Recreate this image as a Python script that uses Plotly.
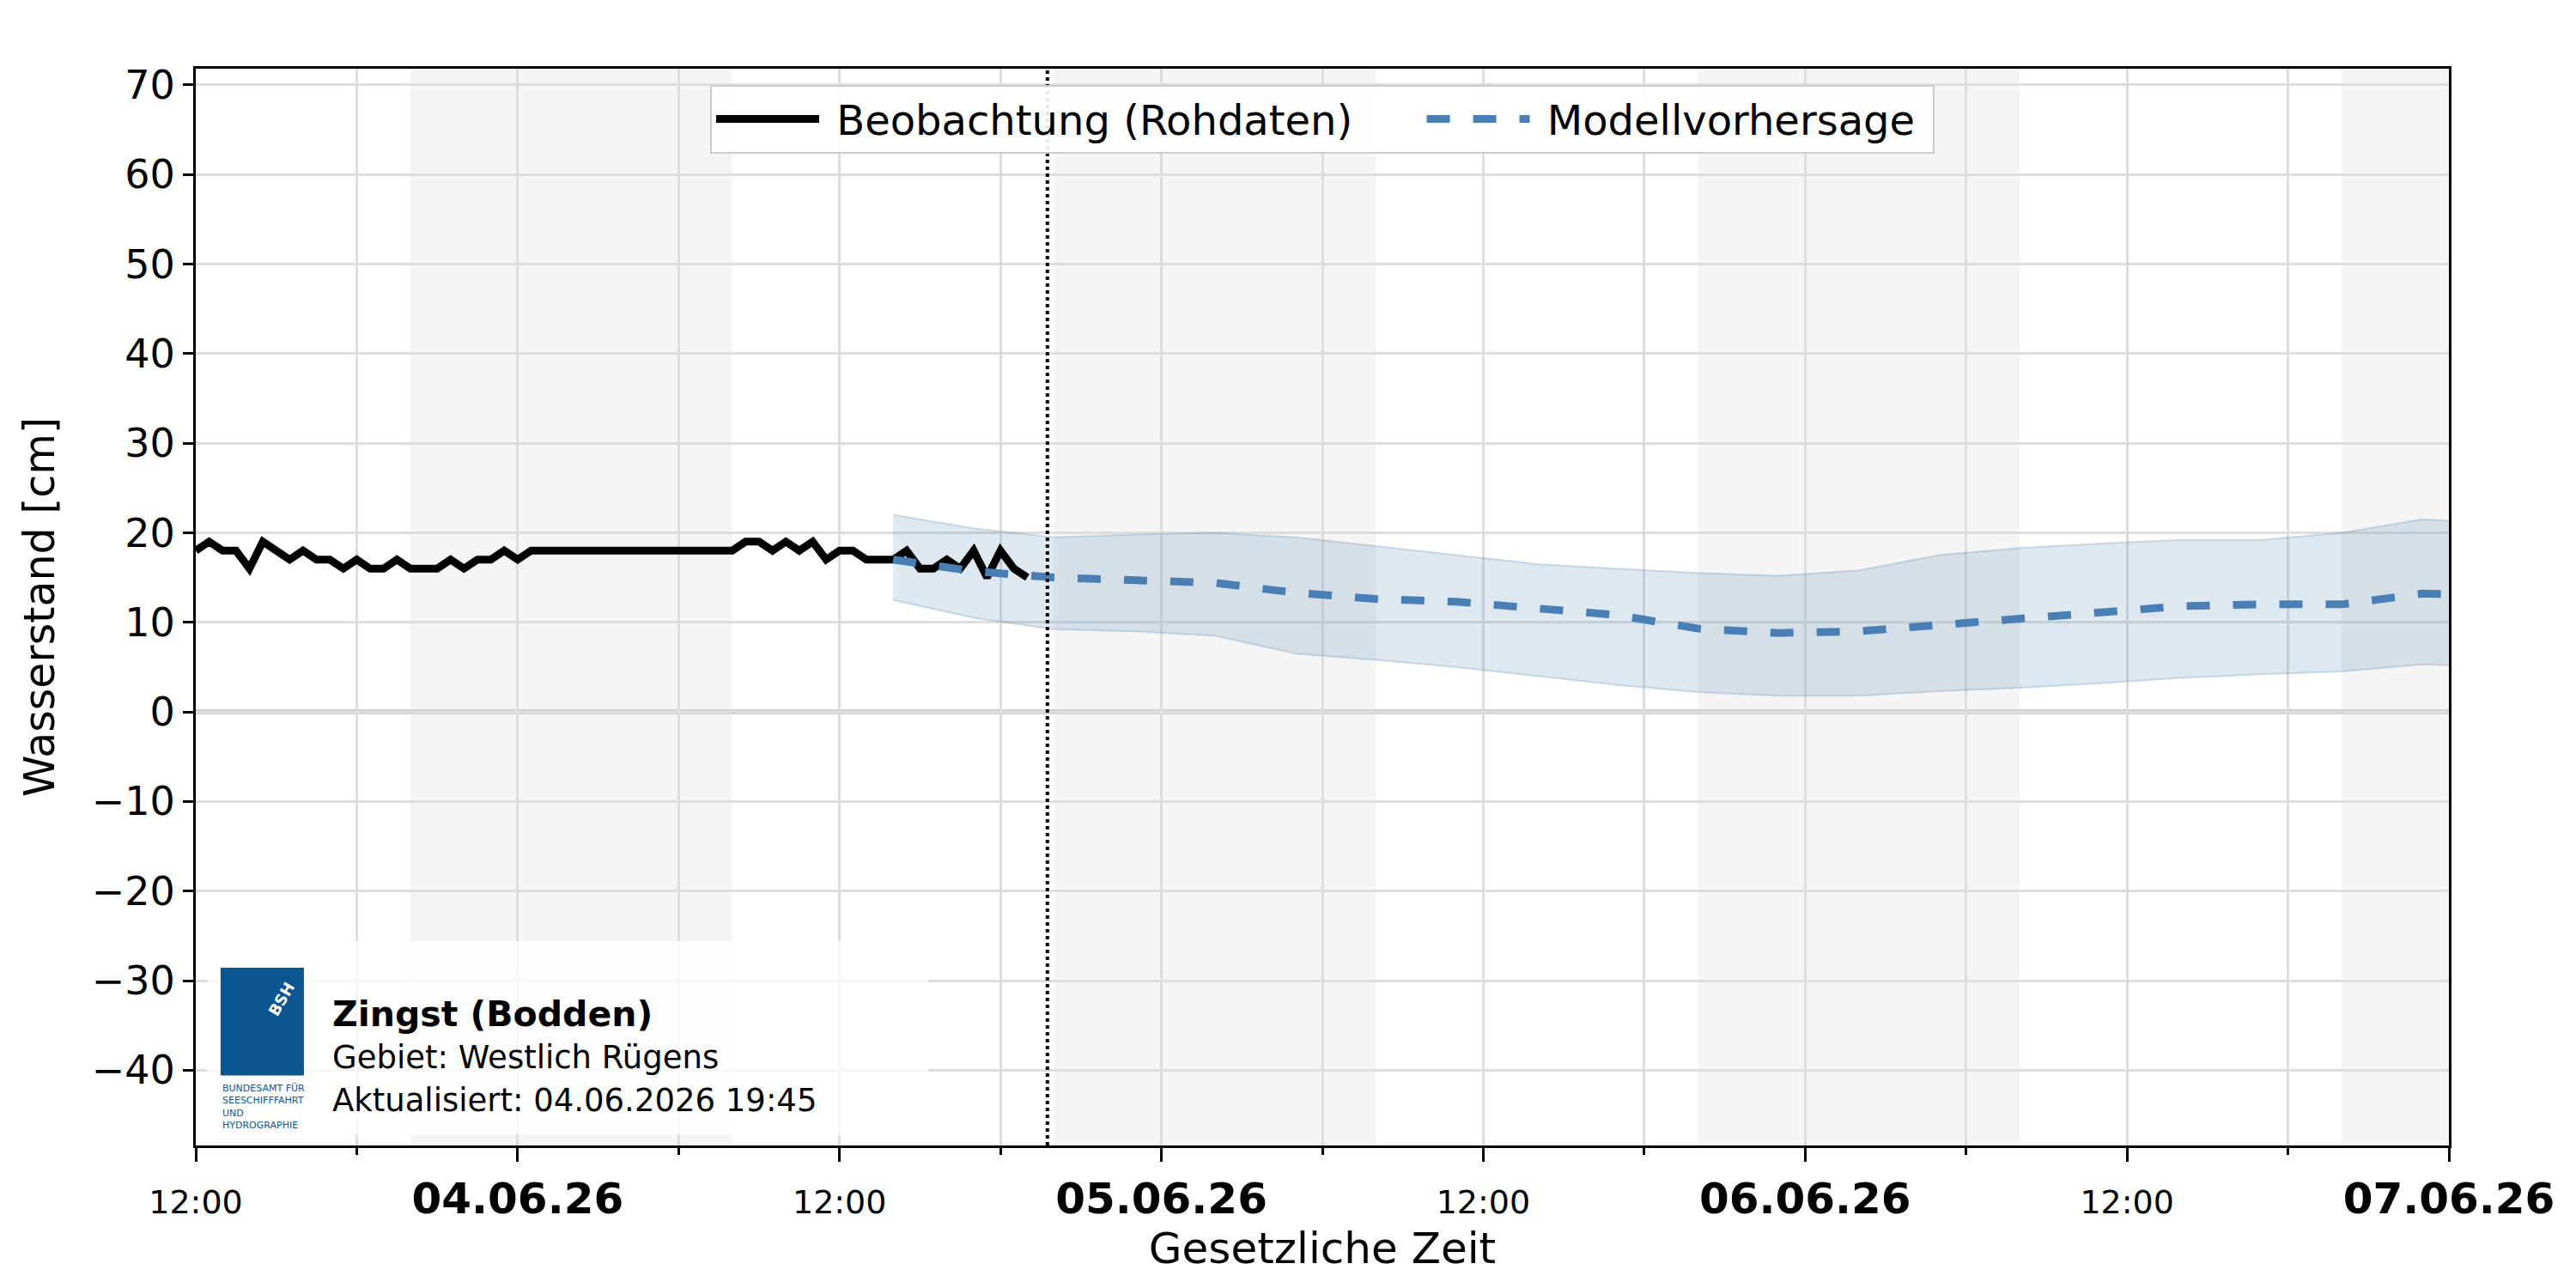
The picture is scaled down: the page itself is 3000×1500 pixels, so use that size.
import plotly.graph_objects as go
import pandas as pd

start = pd.Timestamp("2026-06-03 12:00")
obs_vals = [18,19,18,18,16,19,18,17,18,17,17,16,17,16,16,17,16,16,16,17,16,17,17,18,17,18,
            18,18,18,18,18,18,18,18,18,18,18,18,18,18,18,
            19,19,18,19,18,19,17,18,18,17,17,17,18,16,16,17,16,18,15,18,16,15]
obs_t = pd.date_range(start, periods=len(obs_vals), freq="30min")

fc_start = pd.Timestamp("2026-06-04 14:00")
fc_vals = [17,15.7,15,14.6,14.4,13.3,12.6,12.3,11.5,10.8,9.3,8.8,9,9.7,10.3,11,11.8,12,12,13.2,13]
fc_upper = [22,20.5,19.5,19.8,20,19.5,18.5,17.5,16.5,16,15.5,15.2,15.8,17.5,18.3,18.8,19.2,19.2,20,21.5,21]
fc_lower = [12.5,10.5,9.2,9,8.5,6.5,5.8,5,4,3,2.2,1.8,1.8,2.3,2.7,3.2,3.8,4.2,4.5,5.3,5]
fc_t = pd.date_range(fc_start, periods=len(fc_vals), freq="3h")

nights = [("2026-06-03 20:00","2026-06-04 08:00"),("2026-06-04 20:00","2026-06-05 08:00"),
          ("2026-06-05 20:00","2026-06-06 08:00"),("2026-06-06 20:00","2026-06-07 08:00")]
now = pd.Timestamp("2026-06-04 19:45")
tick_vals = pd.date_range(start, "2026-06-07 00:00", freq="12h")
tick_text = ["<span style='font-size:38px'>12:00</span>" if t.hour == 12 else "<b>" + t.strftime("%d.%m.%y") + "</b>" for t in tick_vals]

NB = "\u00a0"
fig = go.Figure()
fig.add_trace(go.Scatter(x=fc_t, y=fc_upper, mode="lines", line=dict(color="rgba(70,130,180,0.25)", width=2), showlegend=False, hoverinfo="skip"))
fig.add_trace(go.Scatter(x=fc_t, y=fc_lower, mode="lines", fill="tonexty", fillcolor="rgba(70,130,180,0.18)",
                         line=dict(color="rgba(70,130,180,0.25)", width=2), showlegend=False, hoverinfo="skip"))
fig.add_trace(go.Scatter(x=obs_t, y=obs_vals, mode="lines", name=NB + "Beobachtung (Rohdaten)" + NB * 5,
                         line=dict(color="black", width=9)))
fig.add_trace(go.Scatter(x=fc_t, y=fc_vals, mode="lines", name=NB + "Modellvorhersage" + NB,
                         line=dict(color="#4a7fb5", width=9, dash="dash")))

for a, b in nights:
    fig.add_vrect(x0=a, x1=b, fillcolor="#f5f5f5", line_width=0, layer="below")
fig.add_shape(type="line", x0=start, x1="2026-06-07 00:00", y0=0, y1=0, line=dict(color="#d0d0d0", width=6), layer="below")
fig.add_shape(type="line", x0=now, x1=now, y0=0, y1=1, yref="paper", line=dict(color="black", width=4, dash="dot"))

# info box
fig.add_shape(type="rect", xref="paper", yref="paper", x0=0.005, x1=0.325, y0=0.01, y1=0.19,
              fillcolor="rgba(255,255,255,0.75)", line_width=0)
fig.add_shape(type="rect", xref="paper", yref="paper", x0=0.011, x1=0.048, y0=0.065, y1=0.165,
              fillcolor="#0b5591", line_width=0)
fig.add_annotation(xref="paper", yref="paper", x=0.0295, y=0.115, text="<b>BSH</b>", showarrow=False,
                   font=dict(size=18, color="white", family="DejaVu Sans"), textangle=-60)
fig.add_annotation(xref="paper", yref="paper", x=0.011, y=0.06, xanchor="left", yanchor="top", align="left",
                   text="BUNDESAMT FÜR<br>SEESCHIFFFAHRT<br>UND<br>HYDROGRAPHIE", showarrow=False,
                   font=dict(size=11, color="#0b5591", family="DejaVu Sans"))
fig.add_annotation(xref="paper", yref="paper", x=0.06, y=0.122, xanchor="left", yanchor="middle",
                   text="<b>Zingst (Bodden)</b>", showarrow=False, font=dict(size=41, color="black"))
fig.add_annotation(xref="paper", yref="paper", x=0.06, y=0.082, xanchor="left", yanchor="middle",
                   text="Gebiet: Westlich Rügens", showarrow=False, font=dict(size=37, color="black"))
fig.add_annotation(xref="paper", yref="paper", x=0.06, y=0.042, xanchor="left", yanchor="middle",
                   text="Aktualisiert: 04.06.2026 19:45", showarrow=False, font=dict(size=37, color="black"))

fig.update_layout(
    width=3000, height=1500, paper_bgcolor="white", plot_bgcolor="white",
    margin=dict(l=220, r=156, t=72, b=174),
    font=dict(family="DejaVu Sans", size=46, color="black"),
    legend=dict(orientation="h", x=0.5, xanchor="center", y=0.985, yanchor="top", traceorder="normal",
                bordercolor="#cccccc", borderwidth=2, bgcolor="rgba(255,255,255,0.9)",
                font=dict(size=48), itemwidth=120),
    xaxis=dict(range=[start, pd.Timestamp("2026-06-07 00:00")], tickvals=tick_vals, ticktext=tick_text,
               tickfont=dict(size=50), showgrid=True, gridcolor="#dddddd", gridwidth=3,
               minor=dict(dtick=6*3600*1000, showgrid=True, gridcolor="#dddddd", gridwidth=3, ticks="outside", ticklen=8, tickcolor="black"),
               ticks="outside", ticklen=16, tickwidth=3, tickcolor="black",
               showline=True, linecolor="black", linewidth=3, mirror=True,
               title=dict(text="Gesetzliche Zeit", font=dict(size=50), standoff=10)),
    yaxis=dict(range=[-48.4, 71.8], tickvals=list(range(-40, 71, 10)),
               ticktext=[("−" + str(-v)) if v < 0 else str(v) for v in range(-40, 71, 10)],
               showgrid=True, gridcolor="#dddddd", gridwidth=3, zeroline=False,
               ticks="outside", ticklen=12, tickwidth=3, tickcolor="black",
               showline=True, linecolor="black", linewidth=3, mirror=True,
               title=dict(text="Wasserstand [cm]", font=dict(size=49), standoff=28)),
)
fig.write_html("out.html")
